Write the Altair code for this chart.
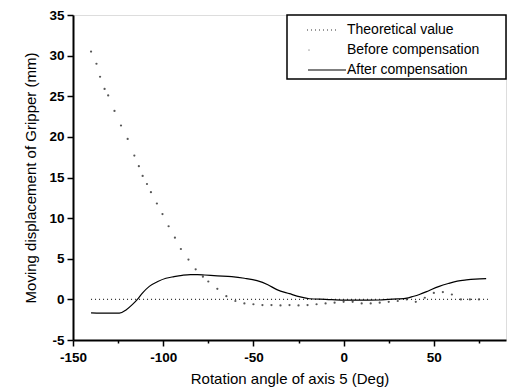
import altair as alt
import pandas as pd

# After compensation (solid line)
after_x = [-140, -130, -124.3, -120.6, -117, -114.3, -111.4, -107.7, -103, -98.5, -94, -89.5, -85, -81, -77, -70, -62, -55, -48, -42, -37, -30, -24, -19, -10, 0, 10, 20, 25, 30, 35, 38, 42, 46, 49, 53, 58, 63, 68, 73, 79]
after_y = [-1.65, -1.7, -1.7, -1.3, -0.62, 0.0, 0.8, 1.6, 2.2, 2.6, 2.8, 2.96, 3.05, 3.05, 3.0, 2.9, 2.8, 2.6, 2.3, 1.8, 1.2, 0.7, 0.3, 0.08, 0.0, -0.1, -0.1, -0.08, 0.0, 0.05, 0.15, 0.33, 0.6, 0.95, 1.25, 1.6, 1.95, 2.25, 2.4, 2.5, 2.55]

# Before compensation (sparse dots)
before_x = [-140, -137, -135, -132.5, -130.5, -127, -123.4, -119.7, -116, -113.5, -111.4, -109, -106.8, -103.5, -100.4, -97, -93.5, -90.2, -86, -82, -78, -75, -70, -65, -60, -55, -50, -45, -40, -35, -30, -25, -20, -15, -10, -5, 0, 5, 10, 15, 20, 25, 30, 35, 40, 45, 50, 55, 60, 65, 70, 75]
before_y = [30.5, 29.0, 27.4, 25.9, 25.1, 23.2, 21.4, 19.75, 17.7, 16.4, 15.2, 14.2, 13.2, 11.8, 10.5, 9.0, 7.6, 6.2, 4.9, 3.7, 2.8, 2.2, 1.3, 0.4, -0.2, -0.5, -0.6, -0.7, -0.7, -0.75, -0.7, -0.75, -0.7, -0.6, -0.5, -0.4, -0.3, -0.3, -0.5, -0.5, -0.4, -0.3, -0.2, 0.0, -0.3, 0.2, 0.8, 0.9, 0.6, 0.0, 0.0, 0.0]

# Theoretical value (dotted line at zero)
theo_x = [-140, 80]
theo_y = [0, 0]

x_ticks = [-150, -125, -100, -75, -50, -25, 0, 25, 50, 75]
y_ticks = [-5, -2.5, 0, 2.5, 5, 7.5, 10, 12.5, 15, 17.5, 20, 22.5, 25, 27.5, 30, 32.5, 35]

legend_labels = ["Theoretical value", "Before compensation", "After compensation"]

after = pd.DataFrame({"x": after_x, "y": after_y})
before = pd.DataFrame({"x": before_x, "y": before_y})
theo = pd.DataFrame({"x": theo_x, "y": theo_y})

FONT = "Liberation Sans"

xscale = alt.Scale(domain=[-150, 90], nice=False, zero=False)
yscale = alt.Scale(domain=[-5, 35], nice=False, zero=False)

xaxis = alt.Axis(
    title="Rotation angle of axis 5 (Deg)", values=x_ticks, grid=False,
    labelExpr="datum.value % 50 === 0 ? '' + datum.value : ''",
    tickSize={"condition": {"test": "datum.value % 50 === 0", "value": 6}, "value": 3},
    labelFont=FONT, labelFontWeight="bold", labelFontSize=13.5, labelColor="black",
    titleFont=FONT, titleFontWeight="normal", titleFontSize=15, titleColor="black",
    domainColor="black", domainWidth=2, tickColor="black", tickWidth=1.5,
    labelPadding=4, titlePadding=8, labelFlush=False, labelOverlap=False,
)
yaxis = alt.Axis(
    title="Moving displacement of Gripper (mm)", values=y_ticks, grid=False,
    labelExpr="datum.value % 5 === 0 ? '' + datum.value : ''",
    tickSize={"condition": {"test": "datum.value % 5 === 0", "value": 6}, "value": 3},
    labelFont=FONT, labelFontWeight="bold", labelFontSize=13.5, labelColor="black",
    titleFont=FONT, titleFontWeight="normal", titleFontSize=15, titleColor="black",
    domainColor="black", domainWidth=2, tickColor="black", tickWidth=1.5,
    labelPadding=3, titlePadding=10, labelFlush=False, labelOverlap=False,
)

theo_line = alt.Chart(theo).mark_line(color="#333333", strokeDash=[1, 3], strokeWidth=1.2).encode(
    x=alt.X("x:Q", scale=xscale, axis=xaxis),
    y=alt.Y("y:Q", scale=yscale, axis=yaxis),
)
before_pts = alt.Chart(before).mark_circle(color="#444444", size=5, opacity=0.9).encode(
    x=alt.X("x:Q", scale=xscale),
    y=alt.Y("y:Q", scale=yscale),
)
after_line = alt.Chart(after).mark_line(color="black", strokeWidth=1.2, interpolate="monotone").encode(
    x=alt.X("x:Q", scale=xscale),
    y=alt.Y("y:Q", scale=yscale),
)

one = pd.DataFrame({"a": [0]})

# legend box
leg_box = alt.Chart(one).mark_rect(
    fill="white", stroke="black", strokeWidth=1.5
).encode(x=alt.value(214), x2=alt.value(433), y=alt.value(0), y2=alt.value(64))

leg_ys = [15, 35, 55]
leg_texts = [
    alt.Chart(one).mark_text(
        align="left", baseline="middle", font=FONT, fontSize=14, color="black", text=lab
    ).encode(x=alt.value(274), y=alt.value(yy))
    for lab, yy in zip(legend_labels, leg_ys)
]

leg_theo = alt.Chart(one).mark_rule(color="#333333", strokeDash=[1, 3], strokeWidth=1.2).encode(
    x=alt.value(234), x2=alt.value(265), y=alt.value(15))
leg_before = alt.Chart(one).mark_circle(color="#888888", size=3).encode(
    x=alt.value(236), y=alt.value(35))
leg_after = alt.Chart(one).mark_rule(color="black", strokeWidth=1.2).encode(
    x=alt.value(235), x2=alt.value(273), y=alt.value(55))

chart = alt.layer(
    theo_line, before_pts, after_line, leg_box, leg_theo, leg_before, leg_after, *leg_texts
).properties(
    width=433, height=325,
    autosize=alt.AutoSizeParams(type="none"),
    padding={"left": 73, "top": 15, "right": 1, "bottom": 50},
).configure_view(stroke="black", strokeWidth=1.5).configure(background="white")

chart.save("out.html", embed_options={"renderer": "svg", "actions": False})
